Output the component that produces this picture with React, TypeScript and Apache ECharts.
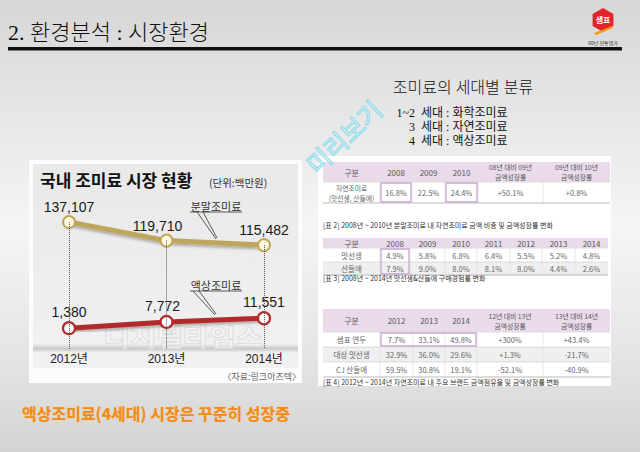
import React, { useEffect, useRef } from 'react';
import * as echarts from 'echarts';

const years = ['2012년', '2013년', '2014년'];
const powderValues = [137107, 119710, 115482];
const liquidValues = [1380, 7772, 11551];

const genPrefixes = ['1~2', '3', '4'];
const genNames = ['세대 : 화학조미료', '세대 : 자연조미료', '세대 : 액상조미료'];

const t2Header = ['구분', '2008', '2009', '2010', '08년 대비 09년\n금액성장률', '09년 대비 10년\n금액성장률'];
const t2Rows = [['자연조미료\n(맛선생, 산들애)', '16.8%', '22.5%', '24.4%', '+50.1%', '+0.8%']];
const t2Caption = '[표 2] 2008년 ~ 2010년 분말조미료 내 자연조미료 금액 비중 및 금액성장률 변화';

const t3Header = ['구분', '2008', '2009', '2010', '2011', '2012', '2013', '2014'];
const t3Rows = [
  ['맛선생', '4.9%', '5.8%', '6.8%', '6.4%', '5.5%', '5.2%', '4.8%'],
  ['산들애', '7.9%', '9.0%', '8.0%', '8.1%', '8.0%', '4.4%', '2.6%'],
];
const t3Caption = '[표 3] 2008년 ~ 2014년 맛선생&산들애 구매경험률 변화';

const t4Header = ['구분', '2012', '2013', '2014', '12년 대비 13년\n금액성장률', '13년 대비 14년\n금액성장률'];
const t4Rows = [
  ['샘표 연두', '7.7%', '33.1%', '49.8%', '+300%', '+43.4%'],
  ['대상 맛선생', '32.9%', '36.0%', '29.6%', '+1.3%', '-21.7%'],
  ['CJ 산들애', '59.5%', '30.8%', '19.1%', '-52.1%', '-40.9%'],
];
const t4Caption = '[표 4] 2012년 ~ 2014년 자연조미료 내 주요 브랜드 금액점유율 및 금액성장률 변화';

const KR = '"Noto Sans CJK KR", "Noto Sans", sans-serif';
const SERIF = '"Liberation Serif", "Noto Sans CJK KR", serif';
const NARROW = '"Liberation Sans Narrow", "Liberation Sans", Arial, "Noto Sans CJK KR", sans-serif';

const GOLD = '#bfa65d';
const RED = '#b32b2b';
const GOLD_MIN = 17800;
const HEADER = '#e9dbea';
const BOX = '#c9a6d1';

function txt(x: number, y: number, text: string, size: number, fill: string, extra: any = {}, styleExtra: any = {}) {
  return {
    type: 'text', x, y, ...extra,
    style: { text, fontSize: size, fontFamily: KR, fill, align: 'left', verticalAlign: 'middle', ...styleExtra },
  };
}

function buildTable(cols: number[], rowsY: number[], header: string[], body: string[][], grayRows: number[],
  boxes: number[][], caption: string, captionY: number) {
  const els: any[] = [];
  const x0 = cols[0];
  const x1 = cols[cols.length - 1];
  els.push({ type: 'rect', shape: { x: x0, y: rowsY[0], width: x1 - x0, height: rowsY[1] - rowsY[0] }, style: { fill: HEADER } });
  grayRows.forEach((r) => {
    els.push({ type: 'rect', shape: { x: x0, y: rowsY[r + 1], width: x1 - x0, height: rowsY[r + 2] - rowsY[r + 1] }, style: { fill: '#efefef' } });
  });
  for (let c = 1; c < cols.length - 1; c++) {
    els.push({ type: 'line', shape: { x1: cols[c], y1: rowsY[1], x2: cols[c], y2: rowsY[rowsY.length - 1] }, style: { stroke: '#e2e2e2', lineWidth: 0.8 } });
  }
  for (let i = 1; i < rowsY.length; i++) {
    const last = i === rowsY.length - 1;
    els.push({ type: 'line', shape: { x1: x0, y1: rowsY[i], x2: x1, y2: rowsY[i] }, style: { stroke: last ? '#b9b9b9' : '#d6d6d6', lineWidth: last ? 1 : 0.8 } });
  }
  header.forEach((h, c) => {
    const multi = h.includes('\n');
    els.push(txt((cols[c] + cols[c + 1]) / 2, (rowsY[0] + rowsY[1]) / 2, h, multi ? 6.8 : 8, '#5a5a5a', {}, { align: 'center', lineHeight: multi ? 10 : 11 }));
  });
  body.forEach((row, r) => {
    row.forEach((v, c) => {
      const multi = v.includes('\n');
      els.push(txt((cols[c] + cols[c + 1]) / 2, (rowsY[r + 1] + rowsY[r + 2]) / 2, v, multi ? 6.8 : 7.5, '#666', {}, { align: 'center', lineHeight: multi ? 10 : 11 }));
    });
  });
  boxes.forEach(([c0, c1, r0, r1]) => {
    els.push({ type: 'rect', shape: { x: cols[c0] + 1, y: rowsY[r0] + 1, width: cols[c1] - cols[c0] - 2, height: rowsY[r1] - rowsY[r0] - 2 }, style: { fill: 'none', stroke: BOX, lineWidth: 1.3 } });
  });
  els.push(txt(x0, captionY, caption, 7, '#333'));
  return els;
}

function buildOption() {
  const hex: number[][] = [];
  for (let i = 0; i < 6; i++) {
    const a = (-90 + i * 60) * Math.PI / 180;
    hex.push([603 + 12 * Math.cos(a), 20 + 12 * Math.sin(a)]);
  }
  const graphics: any[] = [
    {
      type: 'rect', shape: { x: 0, y: 0, width: 640, height: 452 },
      style: {
        fill: new echarts.graphic.LinearGradient(0, 0, 0, 1, [
          { offset: 0, color: '#d6d6d6' }, { offset: 0.18, color: '#e2e2e2' },
          { offset: 0.5, color: '#f5f5f5' }, { offset: 0.8, color: '#e4e4e4' }, { offset: 1, color: '#d3d3d3' },
        ]),
      },
    },
    // header
    txt(8, 32, '2. 환경분석 : 시장환경', 22, '#111', {}, { fontWeight: 300, fontFamily: SERIF }),
    { type: 'rect', shape: { x: 8, y: 47, width: 614, height: 3.5 }, style: { fill: '#111' } },
    { type: 'polygon', shape: { points: hex }, style: { fill: '#e1242b' } },
    { type: 'polygon', shape: { points: [[594, 33], [612, 26], [613, 28], [596, 35]] }, style: { fill: '#f39a1e' } },
    txt(603, 19, '샘표', 8, '#fff', {}, { align: 'center', fontWeight: 'bold' }),
    txt(603, 42, '60년 전통명가', 5, '#333', {}, { align: 'center' }),
    // chart frame
    { type: 'rect', shape: { x: 29, y: 160, width: 273, height: 223 }, style: { fill: '#fcfcfc' } },
    {
      type: 'rect', shape: { x: 33, y: 164, width: 265, height: 204 },
      style: {
        fill: new echarts.graphic.LinearGradient(0, 0, 0, 1, [
          { offset: 0, color: '#e9e9e9' }, { offset: 0.6, color: '#eeeeee' }, { offset: 1, color: '#f1f1f1' },
        ]),
      },
    },
    {
      type: 'rect', shape: { x: 33, y: 344, width: 265, height: 9 },
      style: {
        fill: new echarts.graphic.LinearGradient(0, 0, 0, 1, [
          { offset: 0, color: 'rgba(200,200,200,0)' }, { offset: 0.55, color: '#c6c6c6' }, { offset: 1, color: 'rgba(220,220,220,0)' },
        ]),
      },
    },
    txt(183, 336, '디지털타임스', 24, 'rgba(255,255,255,0.35)', { scaleX: 1.2 }, { align: 'center', fontWeight: 'bold', stroke: '#d9d9d9', lineWidth: 1 }),
    txt(40, 179, '국내 조미료 시장 현황', 17, '#111', {}, { fontWeight: 'bold' }),
    txt(209, 182, '(단위:백만원)', 10.5, '#333'),
    txt(301, 376, '〈자료:링크아즈텍〉', 9, '#666', {}, { align: 'right' }),
    // callouts
    txt(216, 206, '분말조미료', 11, '#333', {}, { align: 'center' }),
    { type: 'line', shape: { x1: 190, y1: 212, x2: 242, y2: 212 }, style: { stroke: '#333', lineWidth: 0.8 } },
    { type: 'polyline', shape: { points: [[197, 212], [216, 239]] }, style: { stroke: '#333', lineWidth: 0.8, fill: 'none' } },
    { type: 'polyline', shape: { points: [[203, 212], [217, 238]] }, style: { stroke: '#333', lineWidth: 0.8, fill: 'none' } },
    txt(216, 285, '액상조미료', 11, '#333', {}, { align: 'center' }),
    { type: 'line', shape: { x1: 190, y1: 291, x2: 242, y2: 291 }, style: { stroke: '#333', lineWidth: 0.8 } },
    { type: 'polyline', shape: { points: [[193, 291], [215, 315]] }, style: { stroke: '#333', lineWidth: 0.8, fill: 'none' } },
    { type: 'polyline', shape: { points: [[199, 291], [216, 314]] }, style: { stroke: '#333', lineWidth: 0.8, fill: 'none' } },
    // right side
    txt(463, 87, '조미료의 세대별 분류', 16, '#111', {}, { fontWeight: 300, align: 'center', fontFamily: SERIF }),
    txt(415, 127, genPrefixes.join('\n'), 12, '#111', {}, { align: 'right', lineHeight: 14, fontFamily: SERIF }),
    txt(421, 127, genNames.join('\n'), 12, '#111', {}, { lineHeight: 14, fontFamily: SERIF }),
  ];
  graphics.push({ type: 'rect', shape: { x: 318, y: 156, width: 293, height: 230 }, style: { fill: '#ffffff' } });
  graphics.push(...buildTable([323, 380, 412, 445, 478, 543, 610], [162, 182, 203], t2Header, t2Rows, [],
    [[1, 2, 1, 2], [3, 4, 1, 2]], t2Caption, 225));
  graphics.push(...buildTable([323, 380, 410, 445, 477, 510, 542, 575, 608], [238, 248, 262, 275], t3Header, t3Rows, [1],
    [[1, 2, 1, 3]], t3Caption, 278));
  graphics.push(...buildTable([323, 380, 413, 445, 477, 543, 610], [309, 332, 347, 362, 377], t4Header, t4Rows, [1],
    [[1, 4, 1, 2]], t4Caption, 382));
  graphics.push(txt(22, 413, '액상조미료(4세대) 시장은 꾸준히 성장중', 16, '#f08a1a', {}, { fontWeight: 'bold', stroke: 'rgba(250,200,130,0.7)', lineWidth: 1 }));
  graphics.push({
    type: 'text', x: 343, y: 136, rotation: Math.PI * 0.24, z: 100,
    style: { text: '미리보기', fontSize: 25, fontFamily: KR, fill: 'rgba(255,255,255,0.2)', stroke: '#74d9ee', lineWidth: 1, align: 'center', verticalAlign: 'middle' },
  });

  const labelBase = {
    show: true, position: 'top', fontFamily: NARROW, fontSize: 14, color: '#1a1a1a',
    formatter: (p: any) => Number(p.value).toLocaleString('en-US'),
  };

  return {
    animation: false,
    graphic: { elements: graphics },
    grid: [
      { left: 69, right: 376, top: 219, bottom: 103 },
      { left: 69, right: 376, top: 310, bottom: 122.5 },
    ],
    xAxis: [
      {
        type: 'category', gridIndex: 0, data: years, boundaryGap: false,
        axisLine: { show: false }, axisTick: { show: false }, splitLine: { show: false },
        axisLabel: { margin: 4, fontSize: 12, color: '#222', fontFamily: NARROW },
      },
      { type: 'category', gridIndex: 1, data: years, boundaryGap: false, show: false },
    ],
    yAxis: [
      { type: 'value', gridIndex: 0, min: GOLD_MIN, max: 140000, show: false, splitLine: { show: false } },
      { type: 'value', gridIndex: 1, min: 0, max: 20000, show: false, splitLine: { show: false } },
    ],
    series: [
      {
        type: 'line', xAxisIndex: 0, yAxisIndex: 0, data: powderValues, z: 1, showSymbol: false,
        lineStyle: { opacity: 0 }, silent: true,
        markLine: {
          silent: true, symbol: ['none', 'none'], label: { show: false },
          lineStyle: { type: 'dotted', color: '#555', width: 1 },
          data: years.map((y, i) => [{ coord: [y, powderValues[i]] }, { coord: [y, GOLD_MIN] }]),
        },
      },
      {
        type: 'line', xAxisIndex: 0, yAxisIndex: 0, z: 3,
        data: powderValues.map((v, i) => (i === 1 ? { value: v, label: { offset: [-9, 0] } } : v)),
        symbol: 'circle', symbolSize: 12,
        lineStyle: { color: GOLD, width: 5, shadowColor: 'rgba(0,0,0,0.3)', shadowBlur: 3, shadowOffsetY: 2 },
        itemStyle: { color: '#fdf8de', borderColor: GOLD, borderWidth: 2 },
        label: { ...labelBase, distance: 1 },
      },
      {
        type: 'line', xAxisIndex: 1, yAxisIndex: 1, z: 3,
        data: liquidValues.map((v, i) => (i === 1 ? { value: v, label: { offset: [-4, 0] } } : v)),
        symbol: 'circle', symbolSize: 12,
        lineStyle: { color: RED, width: 5, shadowColor: 'rgba(0,0,0,0.3)', shadowBlur: 3, shadowOffsetY: 2 },
        itemStyle: { color: '#ffffff', borderColor: RED, borderWidth: 2.2 },
        label: { ...labelBase, distance: 2 },
      },
    ],
  };
}

export default function App() {
  const ref = useRef<HTMLDivElement>(null);
  useEffect(() => {
    document.body.style.margin = '0';
    const chart = echarts.init(ref.current as HTMLDivElement, null, { renderer: 'svg' });
    chart.setOption(buildOption() as any);
    return () => chart.dispose();
  }, []);
  return <div ref={ref} style={{ width: 640, height: 452 }} />;
}
